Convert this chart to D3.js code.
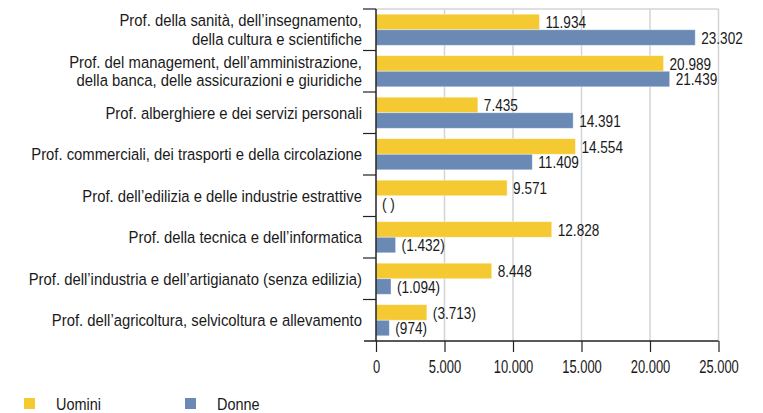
<!DOCTYPE html>
<html><head><meta charset="utf-8">
<script src="https://cdn.jsdelivr.net/npm/d3@7"></script>
<style>
body{margin:0;background:#fff;}
text{font-family:"Liberation Sans","Arial",sans-serif;fill:#1a1a1a;}
</style></head>
<body><svg id="c" width="763" height="413"></svg>
<script>
const categories = [
  ["Prof. della sanità, dell’insegnamento,","della cultura e scientifiche"],
  ["Prof. del management, dell’amministrazione,","della banca, delle assicurazioni e giuridiche"],
  ["Prof. alberghiere e  dei servizi personali"],
  ["Prof. commerciali, dei trasporti e della circolazione"],
  ["Prof. dell’edilizia e delle industrie estrattive"],
  ["Prof. della tecnica e dell’informatica"],
  ["Prof. dell’industria e dell’artigianato (senza edilizia)"],
  ["Prof. dell’agricoltura, selvicoltura e allevamento"]
];
const uomini = [11934, 20989, 7435, 14554, 9571, 12828, 8448, 3713];
const donne  = [23302, 21439, 14391, 11409, 0, 1432, 1094, 974];
const uominiLabels = ["11.934","20.989","7.435","14.554","9.571","12.828","8.448","(3.713)"];
const donneLabels  = ["23.302","21.439","14.391","11.409","( )","(1.432)","(1.094)","(974)"];
const seriesNames = ["Uomini","Donne"];
const xTicks = [0,5000,10000,15000,20000,25000];
const xTickLabels = ["0","5.000","10.000","15.000","20.000","25.000"];

(function(){
const colors = ["#F5C932","#6A8AB5"];
const svg = d3.select("#c");
const L = 376, R = 718.5, T = 9, B = 341;

const x = d3.scaleLinear().domain([0,25000]).range([L,R]);
const y = d3.scaleBand().domain(d3.range(categories.length)).range([T,B]).paddingInner(0.25).paddingOuter(0.125);
const sub = d3.scaleBand().domain([0,1]).range([0,y.bandwidth()]);

// grid
svg.append("g").selectAll("line").data(xTicks.slice(1)).join("line")
  .attr("x1",d=>x(d)).attr("x2",d=>x(d)).attr("y1",T).attr("y2",B)
  .attr("stroke","#d4d4d4").attr("stroke-width",1.5);
svg.append("line").attr("x1",L).attr("x2",R).attr("y1",T).attr("y2",T)
  .attr("stroke","#d4d4d4").attr("stroke-width",1.5);

// bars
const series = [uomini, donne];
const labels = [uominiLabels, donneLabels];
series.forEach((vals,si)=>{
  const g = svg.append("g");
  g.selectAll("rect").data(vals).join("rect")
    .attr("x",L).attr("y",(d,i)=>y(i)+sub(si))
    .attr("width",d=>x(d)-L).attr("height",sub.bandwidth())
    .attr("fill",colors[si]).attr("stroke","#ffffff").attr("stroke-opacity",0.5).attr("stroke-width",0.8);
  g.selectAll("text").data(vals).join("text")
    .attr("transform",(d,i)=>`translate(${x(d)+6},${y(i)+sub(si)+sub.bandwidth()/2}) scale(0.8,1)`)
    .attr("dy","0.36em").style("font-size","17px")
    .text((d,i)=>labels[si][i]);
});

// y axis
svg.append("line").attr("x1",L).attr("x2",L).attr("y1",T).attr("y2",B)
  .attr("stroke","#222").attr("stroke-width",1.5);
const bounds = d3.range(categories.length).map(i=>y(i)-y.step()*y.paddingInner()/2);
svg.append("g").selectAll("line").data(bounds).join("line")
  .attr("x1",363).attr("x2",L).attr("y1",d=>d).attr("y2",d=>d)
  .attr("stroke","#222").attr("stroke-width",1.2);

// category labels
const cl = svg.append("g").selectAll("text").data(categories).join("text")
  .attr("text-anchor","end").style("font-size","16.5px")
  .attr("transform",(d,i)=>`translate(362,${y(i)+y.bandwidth()/2}) scale(0.9,1)`);
cl.each(function(d){
  const t = d3.select(this);
  const n = d.length, lh = 18.5;
  d.forEach((line,k)=>{
    t.append("tspan").attr("x",0).attr("y",(k-(n-1)/2)*lh).attr("dy","0.36em").text(line);
  });
});

// x axis
const xa = svg.append("g").attr("transform",`translate(0,${B})`)
  .call(d3.axisBottom(x).tickValues(xTicks).tickFormat((d,i)=>xTickLabels[i]).tickSize(11).tickPadding(8));
xa.select(".domain").remove();
xa.selectAll(".tick line").attr("stroke","#222").attr("stroke-width",1.2);
xa.selectAll(".tick text").style("font-size","18px").attr("fill","#1a1a1a")
  .style("font-family",'"Liberation Sans",Arial,sans-serif')
  .attr("transform","scale(0.72,1)");
svg.append("line").attr("x1",364).attr("x2",R).attr("y1",B).attr("y2",B)
  .attr("stroke","#222").attr("stroke-width",1.5);

// legend
const lg = svg.append("g").selectAll("g").data(seriesNames).join("g")
  .attr("transform",(d,i)=>`translate(${[24,185][i]},398)`);
lg.append("rect").attr("width",11).attr("height",11).attr("fill",(d,i)=>colors[i]);
lg.append("text").attr("transform","translate(32,5.5) scale(0.85,1)").attr("dy","0.36em").style("font-size","17px").text(d=>d);
})();
</script></body></html>
